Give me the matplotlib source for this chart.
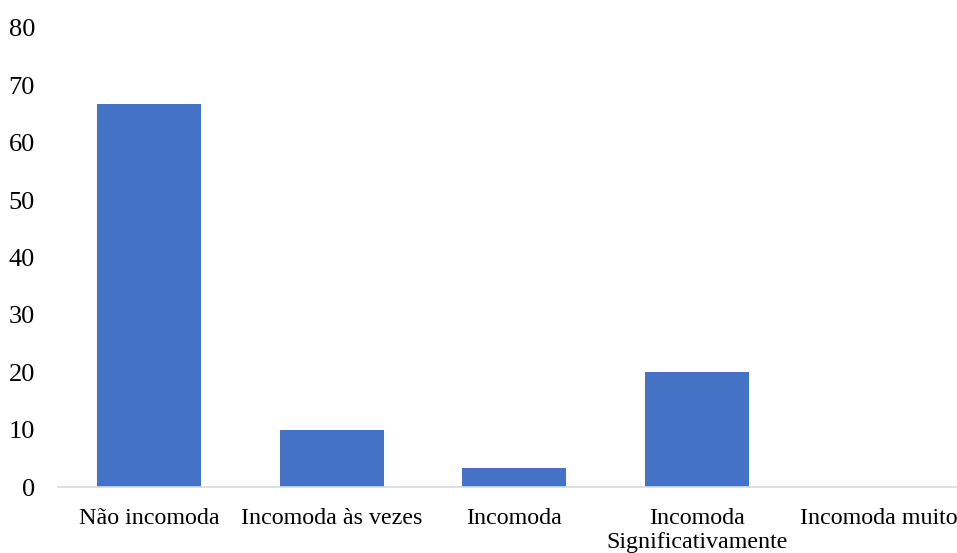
import matplotlib.pyplot as plt

categories = ["Não incomoda", "Incomoda às vezes", "Incomoda", "Incomoda\nSignificativamente", "Incomoda muito"]
values = [66.7, 10.0, 3.3, 20.0, 0.0]
yticks = [0, 10, 20, 30, 40, 50, 60, 70, 80]

plt.rcParams['font.family'] = ['Liberation Serif', 'DejaVu Serif']

fig = plt.figure(figsize=(9.57, 5.53), dpi=100)
ax = fig.add_axes([58 / 957, 1 - 487 / 553, 912.5 / 957, (487 - 28) / 553])

ax.bar(range(len(categories)), values, width=0.57, color="#4472C4")
ax.set_xlim(-0.5, 4.5)
ax.set_ylim(0, 80)
ax.set_yticks(yticks)
ax.set_xticks(range(len(categories)))
ax.set_xticklabels(categories, fontsize=17.3, linespacing=1.2)
ax.tick_params(axis="y", labelsize=19, length=0, pad=16.5)
ax.tick_params(axis="x", length=0, pad=15)

for s in ["top", "right", "left"]:
    ax.spines[s].set_visible(False)
ax.spines["bottom"].set_color("#D9D9D9")
ax.spines["bottom"].set_linewidth(1.2)

fig.savefig("out.png", dpi=100)
